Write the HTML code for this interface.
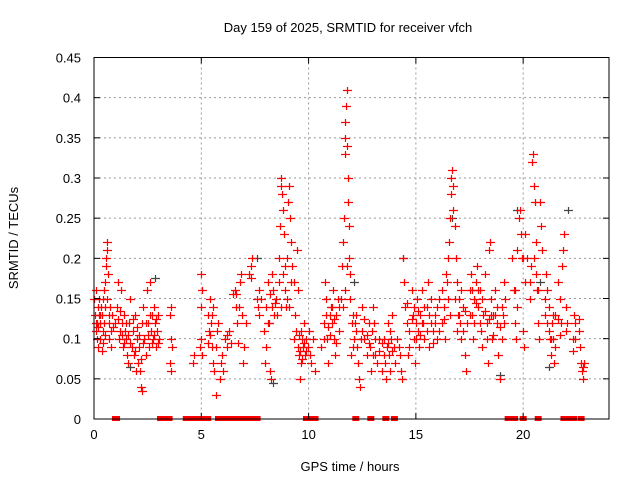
<!DOCTYPE html>
<html><head><meta charset="utf-8"><style>
body{margin:0;background:#fff}
svg text{font-family:"Liberation Sans",sans-serif;font-size:13px;fill:#000}
</style></head><body>
<svg id="chart" width="640" height="480" xmlns="http://www.w3.org/2000/svg">
<text x="348" y="32" text-anchor="middle">Day 159 of 2025, SRMTID for receiver vfch</text>
<text transform="translate(18,238) rotate(-90)" text-anchor="middle">SRMTID / TECUs</text>
<text x="350" y="471" text-anchor="middle">GPS time / hours</text>
<g id="grid"></g>
<g id="marks"></g>
<rect x="94" y="57.5" width="515" height="361.5" fill="none" stroke="#000" stroke-width="1"/>
<g id="axes"></g>
</svg>
<script>
const xTicks=[0,5,10,15,20];
const yTicks=[0,0.05,0.1,0.15,0.2,0.25,0.3,0.35,0.4,0.45];
const yTickLabels=["0","0.05","0.1","0.15","0.2","0.25","0.3","0.35","0.4","0.45"];
const zeroHours=[1.0,1.05,3.1,3.2,3.3,3.5,4.3,4.4,4.5,4.6,4.8,5.0,5.3,5.8,6.1,6.4,6.7,7.0,7.3,7.6,9.9,10.1,10.3,12.2,12.9,13.6,14.0,19.3,19.4,19.5,19.6,20.0,20.7,21.9,22.0,22.1,22.35,22.7];
const redPoints=[
[0.02,.15],[0.05,.13],[0.08,.11],[0.1,.16],[0.12,.12],[0.15,.10],[0.18,.14],[0.2,.09],[0.22,.13],[0.25,.15],[0.28,.12],[0.3,.10],[0.32,.14],[0.35,.085],[0.38,.13],[0.4,.15],[0.42,.11],[0.45,.16],[0.48,.12],[0.5,.17],[0.52,.14],[0.55,.19],[0.58,.2],[0.6,.21],[0.62,.22],[0.65,.18],[0.68,.12],[0.7,.10],[0.75,.14],[0.8,.11],[0.85,.13],
[1.0,.12],[1.05,.14],[1.1,.17],[1.15,.10],[1.2,.11],[1.25,.16],[1.3,.12],[1.35,.09],[1.4,.13],[1.45,.11],[1.5,.10],
[1.55,.08],[1.6,.07],[1.65,.12],[1.7,.15],[1.75,.09],[1.8,.11],[1.85,.08],[1.9,.13],[1.95,.06],[2.0,.1],[2.05,.07],[2.1,.09],[2.15,.06],[2.2,.04],[2.22,.035],[2.25,.12],
[2.3,.14],[2.35,.1],[2.4,.08],[2.45,.16],[2.5,.12],[2.55,.09],[2.6,.17],[2.65,.11],[2.7,.13],[2.75,.1],[2.8,.14],[2.85,.12],[2.9,.09],[2.95,.11],[3.0,.13],[3.05,.1],
[3.55,.13],[3.58,.14],[3.6,.1],[3.62,.09],[3.55,.07],[3.6,.06],
[4.6,.07],[4.65,.08],[4.95,.09],[5.0,.1],[5.0,.14],[5.0,.18],[5.02,.16],[5.05,.08],[5.3,.13],[5.35,.11],[5.4,.15],[5.45,.12],[5.5,.09],[5.55,.07],[5.55,.14],[5.6,.06],[5.7,.03],[5.75,.11],[5.8,.12],[5.85,.05],[5.9,.07],[5.95,.08],[6.0,.06],
[6.1,.1],[6.2,.09],[6.3,.11],[6.4,.095],[6.5,.155],[6.55,.16],[6.6,.14],[6.65,.12],[6.7,.095],[6.75,.14],[6.8,.17],[6.85,.18],[6.9,.13],[6.95,.07],[7.0,.09],[7.1,.12],[7.2,.18],[7.3,.19],[7.35,.2],
[7.6,.15],[7.65,.14],[7.7,.16],[7.8,.15],[7.9,.11],[7.95,.07],[8.0,.09],[8.1,.17],[8.15,.12],[8.2,.06],[8.25,.05],[8.3,.14],[8.35,.16],[8.4,.13],[8.5,.15],[8.55,.13],
[8.6,.2],[8.65,.24],[8.7,.29],[8.72,.3],[8.75,.28],[8.8,.26],[8.85,.23],[8.9,.16],[8.95,.14],[9.0,.2],[9.05,.27],[9.1,.29],[9.15,.25],[9.2,.22],[9.25,.19],[9.3,.17],[9.35,.13],[9.4,.11],[9.45,.21],[9.5,.16],[9.55,.08],[9.6,.05],[9.65,.07],[9.7,.1],[9.75,.09],
[9.8,.12],[9.85,.08],[9.9,.1],[9.95,.09],[10.0,.11],[10.05,.08],[10.1,.07],[10.2,.1],[10.3,.06],
[10.6,.09],[10.7,.12],[10.75,.17],[10.8,.15],[10.85,.1],[10.9,.07],[11.0,.13],[11.05,.14],[11.1,.12],[11.15,.16],[11.2,.1],[11.25,.08],[11.3,.13],[11.35,.15],[11.4,.11],
[11.5,.15],[11.55,.19],[11.6,.22],[11.65,.25],[11.68,.33],[11.7,.35],[11.72,.37],[11.75,.39],[11.78,.41],[11.8,.34],[11.82,.3],[11.85,.27],[11.88,.24],[11.9,.2],[11.93,.18],[11.95,.15],[11.98,.08],[12.0,.12],
[12.05,.13],[12.1,.1],[12.15,.12],[12.2,.11],[12.25,.09],[12.3,.07],[12.35,.05],[12.4,.04],[12.45,.1],[12.5,.14],
[12.6,.1],[12.7,.08],[12.8,.12],[12.85,.09],[12.9,.06],[12.95,.11],[13.0,.14],[13.05,.12],[13.1,.08],[13.2,.07],[13.3,.10],[13.4,.06],
[13.5,.1],[13.55,.07],[13.6,.05],[13.65,.09],[13.7,.12],[13.75,.08],[13.8,.06],[13.85,.1],[13.9,.13],[14.0,.09],[14.05,.07],
[14.2,.09],[14.3,.06],[14.35,.05],[14.4,.2],[14.45,.17],[14.5,.14],[14.6,.12],[14.65,.08],[14.7,.11],[14.8,.16],[14.85,.13],[14.9,.1],[14.95,.07],[15.0,.12],
[15.05,.15],[15.1,.11],[15.15,.09],[15.2,.13],[15.3,.16],[15.35,.12],[15.4,.1],[15.5,.14],[15.55,.17],[15.6,.09],[15.7,.12],[15.8,.11],[15.9,.13],[16.0,.1],[16.1,.15],[16.2,.12],[16.3,.14],[16.35,.1],[16.4,.18],
[16.45,.17],[16.5,.2],[16.55,.22],[16.6,.25],[16.62,.28],[16.65,.3],[16.7,.31],[16.72,.29],[16.75,.26],[16.8,.24],[16.85,.2],[16.9,.17],[16.95,.13],
[17.0,.15],[17.05,.12],[17.1,.1],[17.2,.14],[17.3,.08],[17.35,.06],[17.4,.12],[17.5,.16],[17.55,.18],[17.6,.13],[17.65,.1],[17.7,.15],[17.8,.17],[17.85,.19],[17.9,.14],[18.0,.16],[18.05,.11],
[18.1,.09],[18.15,.13],[18.2,.18],[18.3,.12],[18.35,.07],[18.4,.21],[18.45,.22],[18.5,.15],[18.55,.1],[18.6,.13],[18.7,.16],[18.8,.12],[18.85,.08],[18.9,.05],[19.0,.14],[19.05,.13],[19.1,.17],[19.15,.15],
[19.5,.2],[19.55,.16],[19.6,.12],[19.65,.1],[19.7,.21],[19.8,.25],[19.85,.26],[19.9,.23],[19.95,.2],[20.0,.11],[20.05,.09],[20.1,.23],[20.2,.2],
[20.3,.17],[20.35,.19],[20.4,.32],[20.45,.33],[20.5,.29],[20.55,.27],[20.6,.22],[20.65,.16],[20.7,.12],[20.75,.1],[20.8,.27],[20.85,.24],[20.9,.21],
[21.0,.15],[21.05,.18],[21.1,.16],[21.2,.14],[21.25,.1],[21.3,.08],[21.35,.12],[21.4,.1],[21.45,.07],[21.5,.13],[21.6,.17],[21.7,.15],[21.75,.12],
[21.8,.19],[21.85,.21],[21.9,.23],[22.0,.14],[22.05,.12],[22.3,.1],[22.35,.13],[22.4,.12],[22.6,.11],[22.65,.09],[22.7,.07],[22.75,.06],[22.8,.05],[22.85,.07]
];
const extraRedPoints=[
[0.1,.12],[0.2,.115],[0.3,.13],[0.4,.095],[0.5,.105],[0.6,.15],[0.7,.13],[0.8,.09],[0.9,.115],
[1.1,.125],[1.2,.135],[1.3,.105],[1.4,.095],[1.5,.12],[1.6,.105],[1.7,.095],[1.8,.125],[1.9,.085],[2.0,.115],[2.1,.105],[2.2,.075],[2.3,.095],[2.4,.12],[2.5,.105],[2.6,.13],[2.7,.095],[2.8,.105],[2.9,.125],[3.0,.095],
[5.3,.095],[5.4,.105],[5.5,.13],[5.7,.09],[6.2,.105],[6.6,.155],[7.3,.175],[7.7,.13],[8.0,.14],[8.1,.12],[8.2,.155],[8.3,.18],[8.45,.145],[8.6,.17],[8.7,.14],[8.8,.18],[8.9,.19],[9.0,.15],[9.1,.14],[9.2,.17],[9.3,.1],[9.5,.09],[9.55,.105],[9.6,.085],[9.65,.11],[9.7,.075],[9.8,.095],[9.9,.085],
[10.7,.1],[10.8,.13],[10.9,.115],[11.0,.105],[11.1,.14],[11.2,.125],[11.3,.095],[11.4,.14],[11.6,.14],[11.7,.16],[11.8,.19],[12.05,.09],[12.2,.13],[12.5,.11],[12.6,.125],[12.7,.105],[12.8,.095],[13.0,.08],[13.1,.1],[13.3,.085],[13.4,.095],[13.5,.08],[13.7,.095],[13.8,.11],[13.9,.085],[14.1,.1],[14.25,.08],
[14.6,.145],[14.7,.09],[14.8,.125],[14.9,.14],[15.0,.1],[15.1,.135],[15.2,.105],[15.3,.12],[15.4,.14],[15.5,.11],[15.6,.13],[15.7,.15],[15.8,.095],[15.9,.12],[16.0,.14],[16.1,.11],[16.2,.16],[16.3,.125],[16.5,.15],[16.6,.13],[16.8,.15],[16.9,.11],
[17.0,.13],[17.1,.16],[17.2,.11],[17.3,.135],[17.5,.13],[17.6,.16],[17.7,.12],[17.8,.145],[17.9,.16],[18.0,.12],[18.1,.15],[18.2,.135],[18.3,.1],[18.4,.125],[18.5,.13],[18.6,.105],[18.7,.13],[18.8,.14],[18.9,.115],[19.0,.1],[19.1,.12],
[19.6,.16],[19.7,.14],[20.0,.2],[20.1,.17],[20.3,.15],[20.5,.2],[20.6,.18],[20.7,.16],[21.0,.13],[21.1,.12],[21.2,.11],[21.3,.1],[21.4,.13],[21.5,.09],[21.6,.125],[21.7,.105],[22.0,.11],[22.3,.085],[22.4,.1],[22.6,.125],[22.8,.065]
];
const grayPoints=[[2.85,.175],[7.6,.2],[14.4,.2],[16.7,.25],[18.9,.055],[19.7,.26],[21.2,.065],[22.1,.26],[20.8,.17],[8.35,.045],[12.1,.17],[1.7,.065]];

const X0=94,X1=609,Y0=419,Y1=57.5;
function xs(h){return X0+(h/24)*(X1-X0);}
function ys(v){return Y0-(v/0.45)*(Y0-Y1);}
const NS="http://www.w3.org/2000/svg";
function mk(tag,attrs,parent){const e=document.createElementNS(NS,tag);for(const k in attrs)e.setAttribute(k,attrs[k]);parent.appendChild(e);return e;}
const grid=document.getElementById('grid'),marks=document.getElementById('marks'),axes=document.getElementById('axes');
xTicks.forEach(t=>{
  const x=xs(t);
  if(t>0){const g=mk('line',{x1:x,x2:x,y1:Y1,y2:Y0,stroke:'#999','stroke-dasharray':'2,3'},grid);
  
  }
  mk('line',{x1:x,x2:x,y1:Y0,y2:Y0-6,stroke:'#000'},axes);
  mk('line',{x1:x,x2:x,y1:Y1,y2:Y1+6,stroke:'#000'},axes);
  const l=mk('text',{x:x,y:Y0+20,'text-anchor':'middle'},axes);l.textContent=t;
  
  
});
yTicks.forEach((t,i)=>{
  const y=ys(t);
  if(i>0&&i<yTicks.length-1){const g=mk('line',{x1:X0,x2:X1,y1:y,y2:y,stroke:'#999','stroke-dasharray':'2,3'},grid);
  
  }
  mk('line',{x1:X0,x2:X0+6,y1:y,y2:y,stroke:'#000'},axes);
  mk('line',{x1:X1,x2:X1-6,y1:y,y2:y,stroke:'#000'},axes);
  const l=mk('text',{x:X0-13,y:y+5,'text-anchor':'end'},axes);l.textContent=yTickLabels[i];
  
  
});
function plus(h,v,col){
  const x=Math.round(xs(h))+0.5,y=Math.round(ys(v))+0.5;
  const p=mk('path',{d:`M${x-4.5},${y}H${x+4.5}M${x},${y-3.5}V${y+3.5}`,stroke:col,'stroke-width':1.2,fill:'none'},marks);
  
  
}
grayPoints.forEach(p=>plus(p[0],p[1],'#444'));
redPoints.forEach(p=>plus(p[0],p[1],'#f00'));
extraRedPoints.forEach(p=>plus(p[0],p[1],'#f00'));
zeroHours.forEach(h=>{
  const r=mk('rect',{x:xs(h)-3.5,y:Y0-3,width:7,height:5,fill:'#f00'},marks);
  
  
});
</script>
</body></html>
